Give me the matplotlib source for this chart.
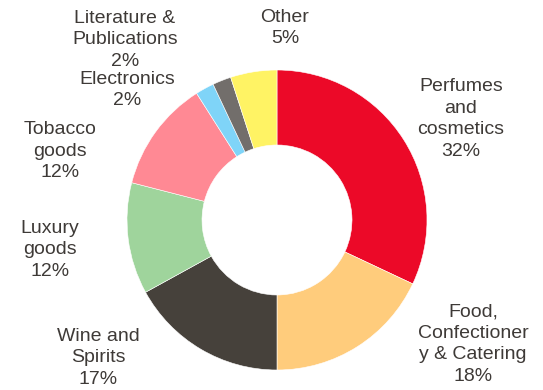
import matplotlib
matplotlib.use("Agg")
import matplotlib.pyplot as plt

categories = ["Perfumes\nand\ncosmetics", "Food,\nConfectioner\ny & Catering",
              "Wine and\nSpirits", "Luxury\ngoods", "Tobacco\ngoods",
              "Electronics", "Literature &\nPublications", "Other"]
shares = [32, 18, 17, 12, 12, 2, 2, 5]
colors = ["#EC0928", "#FFCC7C", "#46413B", "#9FD49C", "#FF8994",
          "#7FD4F8", "#726E6B", "#FFF364"]

# label anchor points (pixel space, y measured from top)
label_pos = [(461, 119), (473, 344), (98, 358), (50, 250), (60, 151),
             (127, 90), (125, 40), (285, 28)]

W, H = 543, 390
fig = plt.figure(figsize=(W / 100, H / 100), dpi=100)
ax = fig.add_axes([0, 0, 1, 1])

cx, cy, r = 277, H - 220, 150
ax.pie(shares, colors=colors, startangle=90, counterclock=False,
       center=(cx, cy), radius=r, frame=True,
       wedgeprops=dict(width=r * 0.5, edgecolor="white", linewidth=0.4))
ax.set_xlim(0, W)
ax.set_ylim(0, H)
ax.set_aspect("equal")
ax.axis("off")

for name, val, (x, y) in zip(categories, shares, label_pos):
    ax.text(x, H - y, f"{name}\n{val}%", ha="center", va="center",
            fontsize=14, family="Liberation Sans", color="#3E3A37",
            linespacing=1.35)

fig.savefig("out.png", dpi=100)
